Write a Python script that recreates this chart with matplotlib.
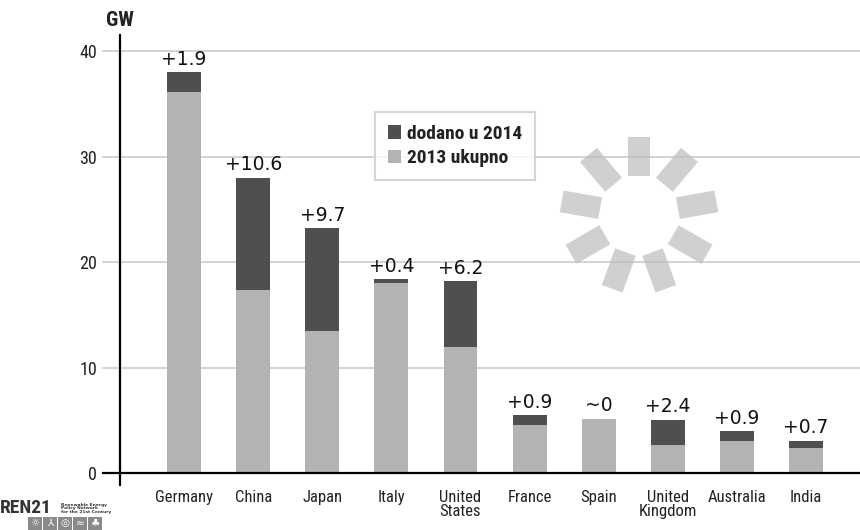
import matplotlib
matplotlib.use('Agg')
import matplotlib.pyplot as plt
from matplotlib.patches import Rectangle
from matplotlib import font_manager as fm
import numpy as np

# ---- data ----
countries = ['Germany', 'China', 'Japan', 'Italy', 'United\nStates', 'France',
             'Spain', 'United\nKingdom', 'Australia', 'India']
base_2013 = [36.1, 17.4, 13.5, 18.0, 12.0, 4.6, 5.2, 2.7, 3.1, 2.4]
added_2014 = [1.9, 10.6, 9.7, 0.4, 6.2, 0.9, 0.0, 2.4, 0.9, 0.7]
added_labels = ['+1.9', '+10.6', '+9.7', '+0.4', '+6.2', '+0.9', '~0', '+2.4', '+0.9', '+0.7']
y_ticks = [0, 10, 20, 30, 40]
legend_labels = ['dodano u 2014', '2013 ukupno']
unit_label = 'GW'

DARK = '#4f4f4f'
LIGHT = '#b3b3b3'
GRID = '#c8c8c8'

# pick a condensed font if one is installed
_fonts = fm.fontManager.ttflist
_names = {f.name for f in _fonts}
COND_FAMILY = None
COND_STRETCH = 'normal'
for cand in ['Liberation Sans Narrow', 'DejaVu Sans Condensed', 'Roboto Condensed',
             'Open Sans Condensed', 'Noto Sans Condensed', 'Arial Narrow']:
    if cand in _names:
        COND_FAMILY = cand
        break
if COND_FAMILY is None:
    for f in _fonts:
        if f.name in ('DejaVu Sans', 'Noto Sans', 'Roboto', 'Open Sans') and \
                f.stretch in ('condensed', 'semi-condensed', 500, 400, 300):
            COND_FAMILY = f.name
            COND_STRETCH = 'condensed'
            break
if COND_FAMILY is None:
    COND_FAMILY = 'Liberation Sans'
COND = [COND_FAMILY, 'DejaVu Sans']

W, H = 860, 530
fig = plt.figure(figsize=(W / 100, H / 100), dpi=100)
ax = fig.add_axes([120 / W, 45 / H, 740 / W, 450 / H])
x = np.arange(len(countries))
ax.set_xlim(-0.926, 9.78)
ax.set_ylim(-1.09, 41.52)

b1 = ax.bar(x, base_2013, width=0.49, color=LIGHT, zorder=2)
b2 = ax.bar(x, added_2014, bottom=base_2013, width=0.49, color=DARK, zorder=2)

ytr = ax.get_yaxis_transform()
for t in y_ticks[1:]:
    ax.plot([-0.023, 1], [t, t], transform=ytr, color=GRID, lw=1.1, clip_on=False, zorder=1)
ax.plot([-0.023, 1], [0, 0], transform=ytr, color='black', lw=1.6, clip_on=False, zorder=3)

for s in ['top', 'right', 'bottom']:
    ax.spines[s].set_visible(False)
ax.spines['left'].set_linewidth(1.6)
ax.spines['left'].set_color('black')

ax.set_yticks(y_ticks)
ax.tick_params(axis='y', length=0, pad=16.5, labelsize=13, labelcolor='#222222')
ax.set_xticks(x, countries)
ax.tick_params(axis='x', length=0, pad=3.5, labelsize=12, labelcolor='#222222')
for lbl in ax.get_xticklabels() + ax.get_yticklabels():
    lbl.set_family(COND)
    lbl.set_stretch(COND_STRETCH)
for lbl in ax.get_xticklabels():
    lbl.set_linespacing(0.95)

totals = [b + a for b, a in zip(base_2013, added_2014)]
for i, lab in enumerate(added_labels):
    ax.annotate(lab, (x[i], totals[i]), xytext=(0, 2.5), textcoords='offset points',
                ha='center', va='bottom', fontsize=13.5, family='DejaVu Sans', color='#111111')

fig.text(120 / W, 1 - 21 / H, unit_label, ha='center', va='center', fontsize=15,
         fontweight='bold', family=COND, stretch=COND_STRETCH, color='#222222')

leg = fig.legend([b2, b1], legend_labels, loc='upper left',
                 bbox_to_anchor=(375 / W, 1 - 112 / H), frameon=True, fancybox=False,
                 edgecolor='#cccccc',
                 prop=fm.FontProperties(family=COND, weight='bold', size=14,
                                        stretch=COND_STRETCH),
                 handlelength=0.68, handleheight=0.68, handletextpad=0.3, borderpad=0.66,
                 labelspacing=0.32, borderaxespad=0)
leg.get_frame().set_linewidth(1.5)
for t in leg.get_texts():
    t.set_color('#222222')

# overlay for decorative sun icon and logo
ov = fig.add_axes([0, 0, 1, 1], zorder=5)
ov.set_xlim(0, W)
ov.set_ylim(0, H)
ov.axis('off')
cx, cy, r = 639, H - 215, 59
for k in range(9):
    ang = 90 + 40 * k
    th = np.deg2rad(ang)
    px, py = cx + r * np.cos(th), cy + r * np.sin(th)
    ov.add_patch(Rectangle((px - 11, py - 19.5), 22, 39, angle=ang - 90,
                           rotation_point='center', fc='#bdbdbd', alpha=0.7, lw=0))

ov.text(0, H - 508, 'REN21', ha='left', va='center', fontsize=14, fontweight='bold',
        family=COND, stretch=COND_STRETCH, color='#333333')
ov.text(61, H - 508.5, 'Renewable Energy\nPolicy Network\nfor the 21st Century', ha='left',
        va='center', fontsize=3.2, fontweight='bold', linespacing=0.95, color='#333333')
icons = ['☼', '⅄', '◎', '≈', '♣']
for j, sym in enumerate(icons):
    ov.add_patch(Rectangle((28 + 15 * j, 0.5), 14, 13, fc='#8a8a8a', lw=0))
    ov.text(35 + 15 * j, 7, sym, ha='center', va='center', fontsize=7.5, color='white',
            family='DejaVu Sans')

fig.savefig('out.png', dpi=100)
